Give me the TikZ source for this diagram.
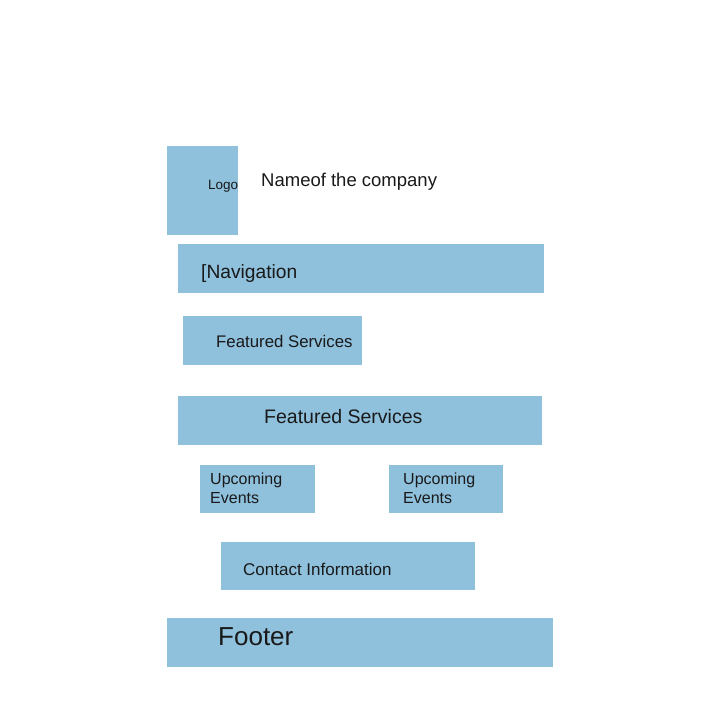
\documentclass[tikz,border=0pt]{standalone}
\usepackage{fontspec}
\setmainfont{Liberation Sans}
\usepackage{tikz}

\definecolor{boxblue}{RGB}{143,193,221}

\begin{document}
\begin{tikzpicture}[x=1pt, y=-1pt,
    block/.style={fill=boxblue, inner sep=0pt, outer sep=0pt, anchor=north west},
    label/.style={inner sep=0pt, anchor=base west, text=black!90}]
  \useasboundingbox (0,0) rectangle (720,720);

  % boxes
  \node[block, minimum width=71pt,  minimum height=89pt] (logo)    at (167,146) {};
  \node[block, minimum width=366pt, minimum height=49pt] (nav)     at (178,244) {};
  \node[block, minimum width=179pt, minimum height=49pt] (featA)   at (183,316) {};
  \node[block, minimum width=364pt, minimum height=49pt] (featB)   at (178,396) {};
  \node[block, minimum width=115pt, minimum height=48pt] (eventA)  at (200,465) {};
  \node[block, minimum width=114pt, minimum height=48pt] (eventB)  at (389,465) {};
  \node[block, minimum width=254pt, minimum height=48pt] (contact) at (221,542) {};
  \node[block, minimum width=386pt, minimum height=49pt] (footer)  at (167,618) {};

  % texts
  \node[label, font=\fontsize{13.5}{16}\selectfont] (logotxt)    at (208,189) {Logo};
  \node[label, font=\fontsize{18.5}{22}\selectfont] (company)    at (261,186) {Nameof the company};
  \node[label, font=\fontsize{19.2}{23}\selectfont] (navtxt)     at (201,278) {[Navigation};
  \node[label, font=\fontsize{16.8}{20}\selectfont] (featAtxt)   at (216,347) {Featured Services};
  \node[label, font=\fontsize{19.5}{23}\selectfont] (featBtxt)   at (264,423) {Featured Services};
  % base of a two-line label is its last line
  \node[label, font=\fontsize{16}{18.5}\selectfont, align=left] (eventAtxt) at (210,503) {Upcoming\\Events};
  \node[label, font=\fontsize{16}{18.5}\selectfont, align=left] (eventBtxt) at (403,503) {Upcoming\\Events};
  \node[label, font=\fontsize{17}{20}\selectfont]   (contacttxt) at (243,575) {Contact Information};
  \node[label, font=\fontsize{26}{30}\selectfont]   (footertxt)  at (218,645) {Footer};
\end{tikzpicture}
\end{document}
